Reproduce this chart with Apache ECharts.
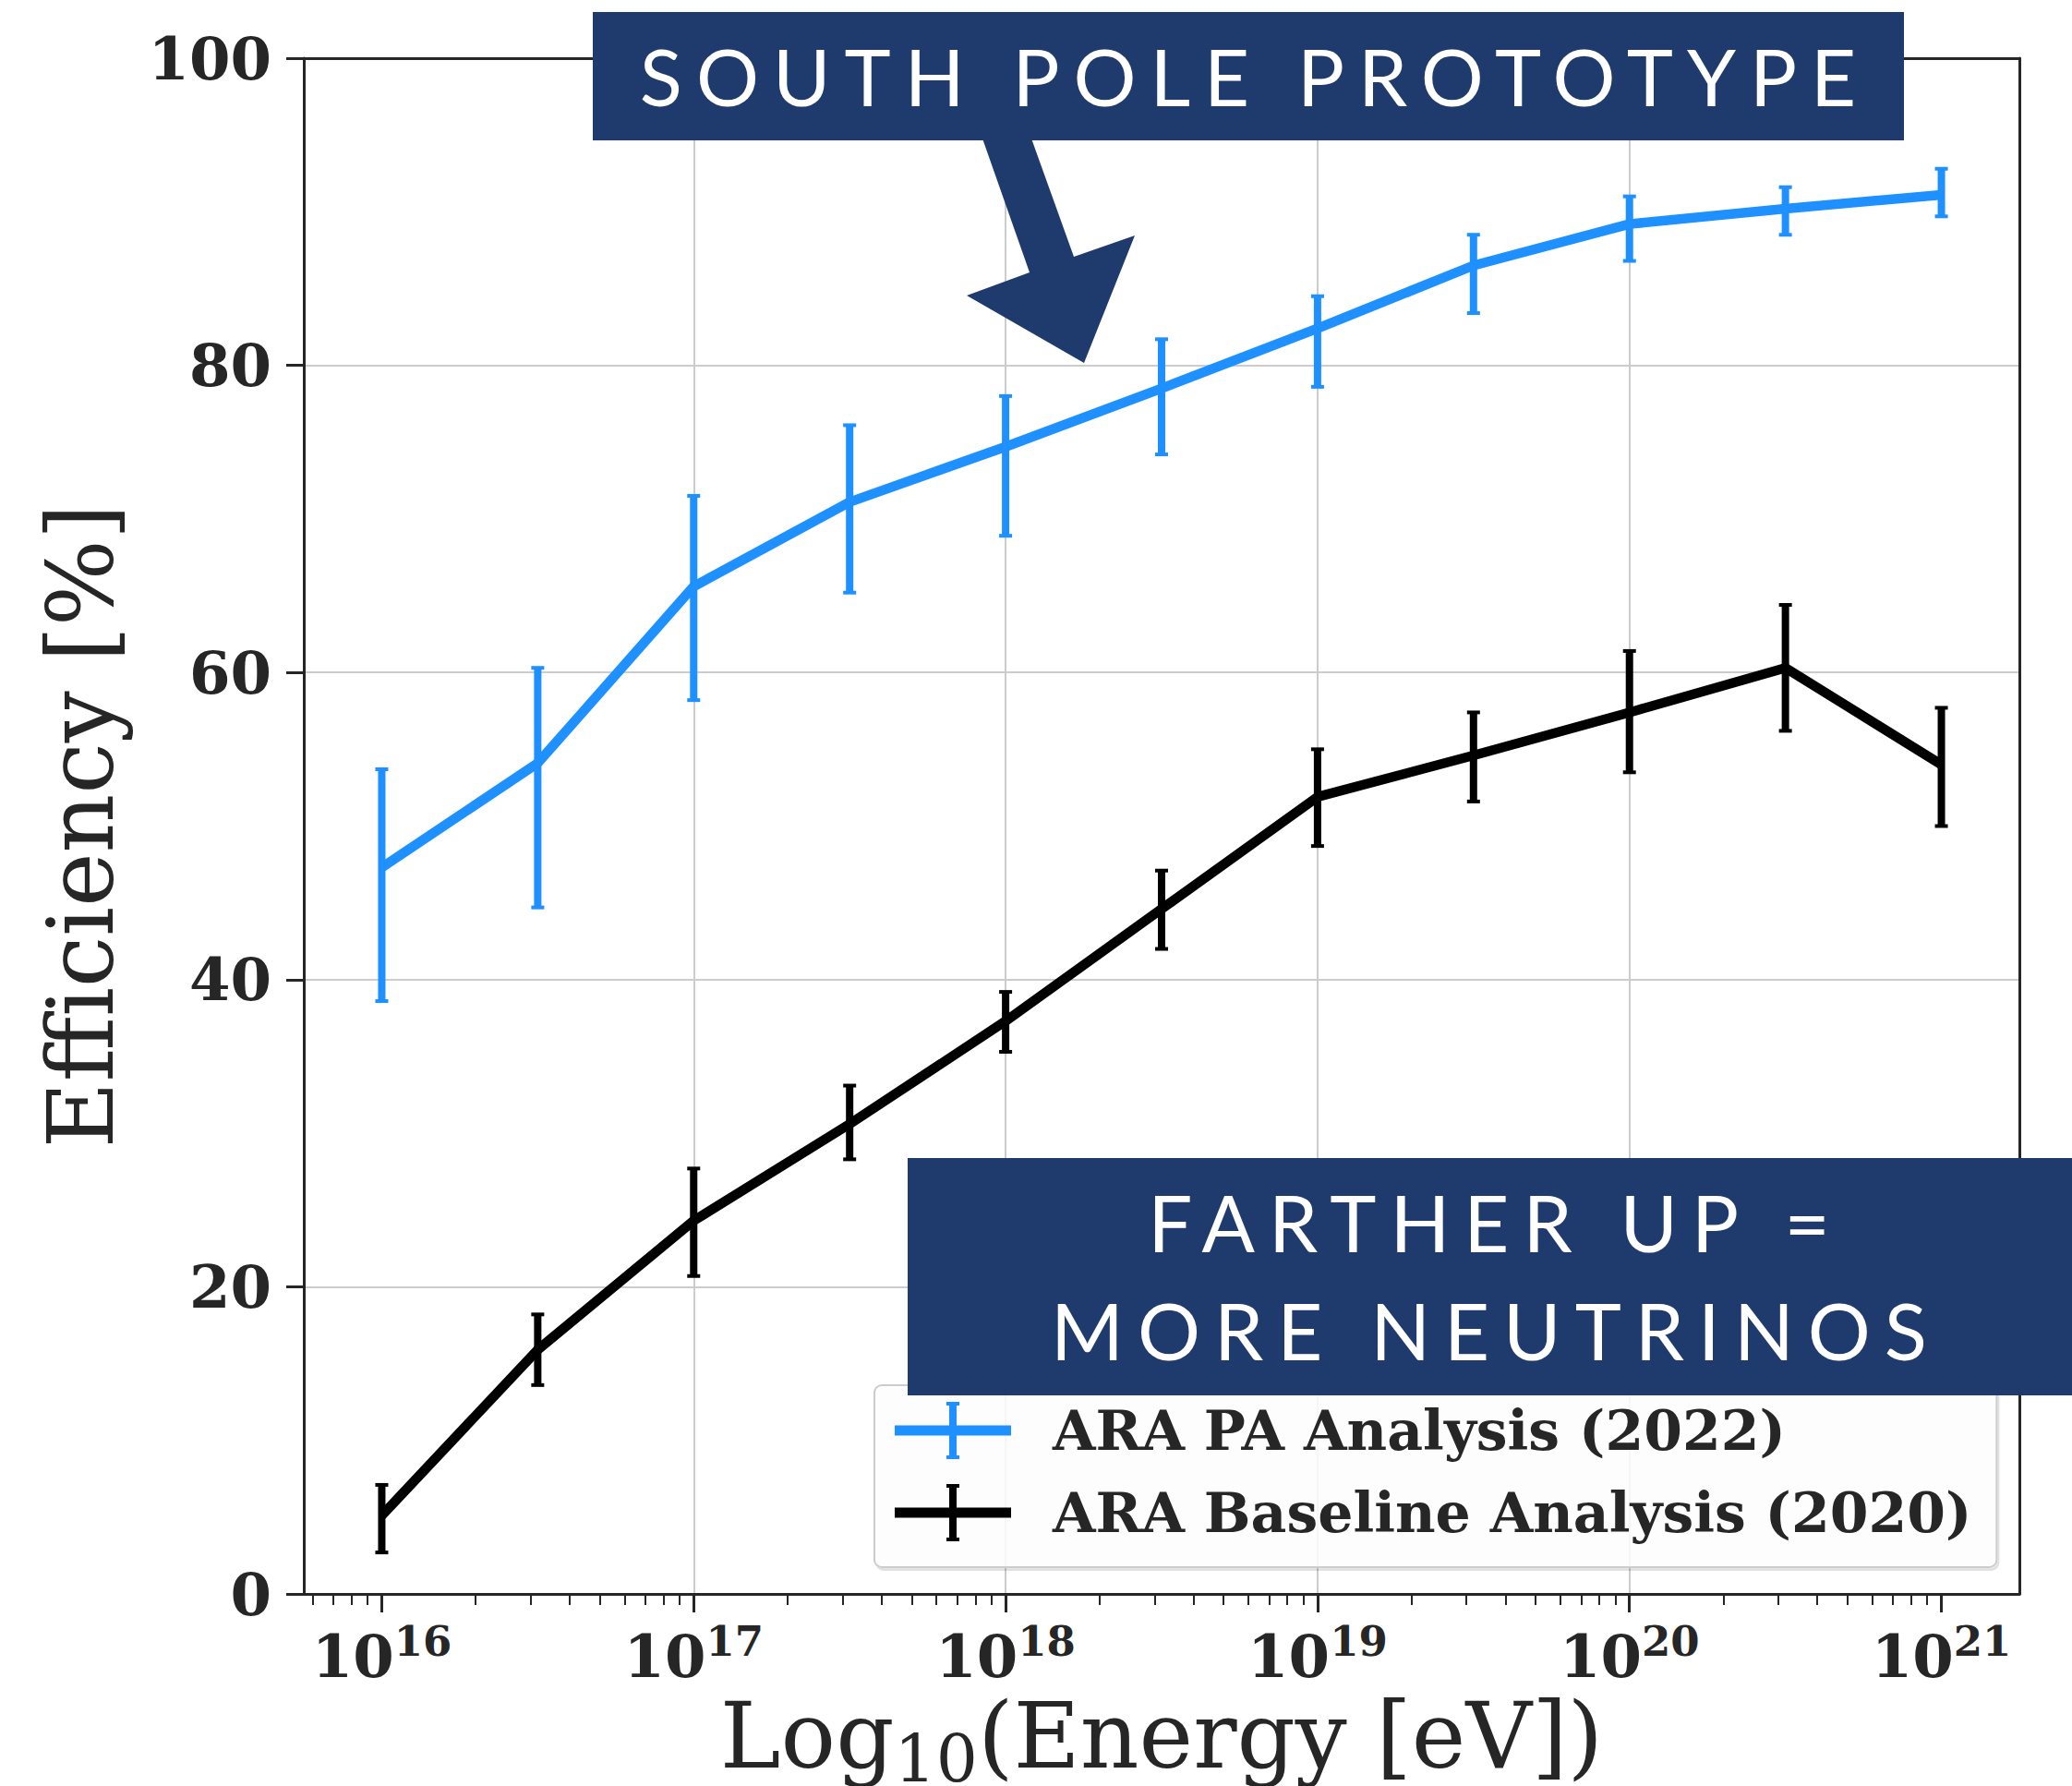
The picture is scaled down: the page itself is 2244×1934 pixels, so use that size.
<!DOCTYPE html>
<html>
<head>
<meta charset="utf-8">
<script src="https://cdn.jsdelivr.net/npm/echarts@6/dist/echarts.min.js"></script>
<style>
  html, body { margin: 0; padding: 0; background: #ffffff; }
  #chart { width: 2244px; height: 1934px; }
  #chart svg text[style*="Lato"] { letter-spacing: 15px; }
</style>
</head>
<body>
<div id="chart"></div>
<script>
// ---- data (x = log10 of energy in eV) ----
const logEnergy = [16, 16.5, 17, 17.5, 18, 18.5, 19, 19.5, 20, 20.5, 21];
const paEff  = [47.3, 54.1, 65.6, 71.1, 74.7, 78.5, 82.4, 86.5, 89.2, 90.2, 91.1];
const paLow  = [38.6, 44.7, 58.2, 65.2, 68.9, 74.2, 78.6, 83.4, 86.8, 88.5, 89.7];
const paHigh = [53.7, 60.3, 71.5, 76.1, 78.0, 81.7, 84.5, 88.5, 91.0, 91.6, 92.8];
const baseEff  = [5.1, 15.9, 24.3, 30.6, 37.3, 44.6, 51.9, 54.6, 57.4, 60.3, 54.0];
const baseLow  = [2.7, 13.6, 20.7, 28.3, 35.3, 42.0, 48.7, 51.6, 53.5, 56.2, 50.0];
const baseHigh = [7.1, 18.2, 27.7, 33.1, 39.2, 47.1, 55.0, 57.4, 61.4, 64.4, 57.7];

const seriesNames = ['ARA PA Analysis (2022)', 'ARA Baseline Analysis (2020)'];
const majorExponents = [16, 17, 18, 19, 20, 21];
const minorMantissas = [2, 3, 4, 5, 6, 7, 8, 9];
const xMin = 15.75, xMax = 21.25;

const minorTicks = [];
[15, 16, 17, 18, 19, 20, 21].forEach(d => {
  minorMantissas.forEach(m => {
    const v = d + Math.log10(m);
    if (v > xMin && v < xMax) minorTicks.push(v);
  });
});

const BLUE = '#1e90ff';
const BLACK = '#000000';
const AXIS = '#262626';
const NAVY = '#1f3b6e';
const SERIF = 'DejaVu Serif';

function zip2(a, b) { return a.map((v, i) => [v, b[i]]); }
function zip3(a, b, c) { return a.map((v, i) => [v, b[i], c[i]]); }

function errRender(color) {
  return function (params, api) {
    const x = api.value(0), lo = api.value(1), hi = api.value(2);
    const p1 = api.coord([x, lo]);
    const p2 = api.coord([x, hi]);
    const capW = 14, capT = 4;
    return {
      type: 'group',
      children: [
        { type: 'line', shape: { x1: p1[0], y1: p1[1], x2: p2[0], y2: p2[1] },
          style: { stroke: color, lineWidth: 8 } },
        { type: 'rect', shape: { x: p2[0] - capW / 2, y: p2[1] - capT / 2, width: capW, height: capT },
          style: { fill: color } },
        { type: 'rect', shape: { x: p1[0] - capW / 2, y: p1[1] - capT / 2, width: capW, height: capT },
          style: { fill: color } }
      ]
    };
  };
}

const legendIcon = 'path://M0,25.5H126V36.5H0Z M59,0H67V62H59Z M56,0H70V4H56Z M56,58H70V62H56Z';

const chart = echarts.init(document.getElementById('chart'), null, { renderer: 'svg' });

const option = {
  backgroundColor: '#ffffff',
  animation: false,
  grid: { left: 329, top: 63, right: 57, bottom: 208, show: false, containLabel: false, outerBoundsMode: 'none' },
  xAxis: [
    {
      type: 'value', min: xMin, max: xMax, position: 'bottom',
      name: '{a|Log}{b|10}{a|(Energy [eV])}',
      nameLocation: 'middle', nameGap: 94,
      nameTextStyle: {
        rich: {
          a: { fontFamily: SERIF, fontSize: 99, color: AXIS, lineHeight: 100, verticalAlign: 'top' },
          b: { fontFamily: SERIF, fontSize: 71, color: AXIS, lineHeight: 51, height: 51, verticalAlign: 'bottom' }
        }
      },
      axisLine: { show: true, lineStyle: { color: AXIS, width: 3 } },
      axisTick: { show: true, customValues: majorExponents, length: 20, lineStyle: { color: AXIS, width: 3 } },
      axisLabel: {
        customValues: majorExponents, margin: 29,
        formatter: v => '{m|10}{s|' + Math.round(v) + '}',
        rich: {
          m: { fontFamily: SERIF, fontWeight: 'bold', fontSize: 64, color: AXIS, lineHeight: 70, verticalAlign: 'bottom' },
          s: { fontFamily: SERIF, fontWeight: 'bold', fontSize: 45, color: AXIS, lineHeight: 38, verticalAlign: 'top' }
        }
      },
      splitLine: { show: true, showMinLine: false, showMaxLine: false, lineStyle: { color: '#cccccc', width: 2 } }
    },
    {
      type: 'value', min: xMin, max: xMax, position: 'bottom',
      axisLine: { show: false },
      axisTick: { show: true, customValues: minorTicks, length: 12, lineStyle: { color: AXIS, width: 2 } },
      axisLabel: { show: false },
      splitLine: { show: false }
    },
    {
      type: 'value', min: xMin, max: xMax, position: 'top',
      axisLine: { show: true, onZero: false, lineStyle: { color: AXIS, width: 3 } },
      axisTick: { show: false }, axisLabel: { show: false }, splitLine: { show: false }
    }
  ],
  yAxis: [
    {
      type: 'value', min: 0, max: 100, interval: 20, position: 'left',
      name: 'Efficiency [%]', nameLocation: 'middle', nameRotate: 90, nameGap: 192,
      nameTextStyle: { fontFamily: SERIF, fontSize: 99, color: AXIS },
      axisLine: { show: true, lineStyle: { color: AXIS, width: 3 } },
      axisTick: { show: true, length: 19, lineStyle: { color: AXIS, width: 3 } },
      axisLabel: {
        margin: 35, fontFamily: SERIF, fontWeight: 'bold', fontSize: 64, color: AXIS,
        padding: [12, 0, 0, 0]
      },
      splitLine: { show: true, showMinLine: false, showMaxLine: false, lineStyle: { color: '#cccccc', width: 2 } }
    },
    {
      type: 'value', min: 0, max: 100, position: 'right',
      axisLine: { show: true, onZero: false, lineStyle: { color: AXIS, width: 3 } },
      axisTick: { show: false }, axisLabel: { show: false }, splitLine: { show: false }
    }
  ],
  legend: {
    orient: 'vertical', left: 947, top: 1500,
    padding: [18, 27, 28, 22], itemGap: 27,
    itemWidth: 126, itemHeight: 62,
    backgroundColor: 'rgba(255,255,255,0.85)',
    borderColor: '#cccccc', borderWidth: 2, borderRadius: 8,
    shadowColor: 'rgba(0,0,0,0.12)', shadowOffsetY: 3, shadowOffsetX: 2, shadowBlur: 0,
    itemStyle: { borderWidth: 0 },
    textStyle: {
      fontFamily: SERIF, fontWeight: 'bold', fontSize: 60, color: AXIS,
      lineHeight: 62, padding: [0, 0, 0, 40]
    },
    data: [
      { name: seriesNames[0], icon: legendIcon, itemStyle: { color: BLUE, borderWidth: 0 } },
      { name: seriesNames[1], icon: legendIcon, itemStyle: { color: BLACK, borderWidth: 0 } }
    ]
  },
  series: [
    {
      name: seriesNames[0], type: 'line', xAxisIndex: 0, yAxisIndex: 0,
      data: zip2(logEnergy, paEff), symbol: 'none', z: 3,
      itemStyle: { color: BLUE }, lineStyle: { color: BLUE, width: 10.5 }
    },
    {
      name: seriesNames[0], type: 'custom', xAxisIndex: 0, yAxisIndex: 0,
      data: zip3(logEnergy, paLow, paHigh), encode: { x: 0, y: [1, 2] },
      renderItem: errRender(BLUE), z: 3, itemStyle: { color: BLUE }
    },
    {
      name: seriesNames[1], type: 'line', xAxisIndex: 0, yAxisIndex: 0,
      data: zip2(logEnergy, baseEff), symbol: 'none', z: 4,
      itemStyle: { color: BLACK }, lineStyle: { color: BLACK, width: 10.5 }
    },
    {
      name: seriesNames[1], type: 'custom', xAxisIndex: 0, yAxisIndex: 0,
      data: zip3(logEnergy, baseLow, baseHigh), encode: { x: 0, y: [1, 2] },
      renderItem: errRender(BLACK), z: 4, itemStyle: { color: BLACK }
    }
  ],
  graphic: [
    { type: 'rect', z: 100, shape: { x: 642, y: 13, width: 1420, height: 139 }, style: { fill: NAVY } },
    { type: 'polygon', z: 100,
      shape: { points: [[1064, 150], [1117, 150], [1163, 278], [1229, 255], [1174, 393], [1047, 320], [1115, 295]] },
      style: { fill: NAVY } },
    { type: 'text', z: 101, x: 1359, y: 82,
      style: { text: 'SOUTH POLE PROTOTYPE', fontFamily: 'Lato', fontSize: 85, fill: '#ffffff',
               textAlign: 'center', textVerticalAlign: 'middle' } },
    { type: 'rect', z: 100, shape: { x: 983, y: 1254, width: 1261, height: 257 }, style: { fill: NAVY } },
    { type: 'text', z: 101, x: 1620, y: 1323,
      style: { text: 'FARTHER UP =', fontFamily: 'Lato', fontSize: 85, fill: '#ffffff',
               textAlign: 'center', textVerticalAlign: 'middle' } },
    { type: 'text', z: 101, x: 1620, y: 1440,
      style: { text: 'MORE NEUTRINOS', fontFamily: 'Lato', fontSize: 85, fill: '#ffffff',
               textAlign: 'center', textVerticalAlign: 'middle' } }
  ]
};

chart.setOption(option);
</script>
</body>
</html>
